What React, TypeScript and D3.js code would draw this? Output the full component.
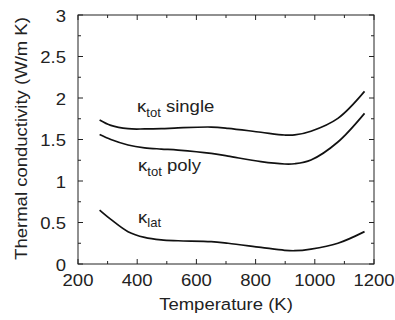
import React from "react";
import * as d3 from "d3";

const temps = [273, 311, 369, 425, 481, 538, 650, 707, 818, 898, 932, 987, 1078, 1168];
const single = [1.735, 1.67, 1.63, 1.627, 1.63, 1.64, 1.65, 1.635, 1.587, 1.554, 1.555, 1.6, 1.755, 2.08];
const poly = [1.56, 1.5, 1.434, 1.4, 1.385, 1.373, 1.333, 1.3, 1.233, 1.205, 1.208, 1.253, 1.47, 1.815];
const lat = [0.65, 0.538, 0.39, 0.32, 0.29, 0.28, 0.27, 0.25, 0.2, 0.165, 0.16, 0.18, 0.25, 0.39];

const xMajor = [200, 400, 600, 800, 1000, 1200];
const xMinor = [300, 500, 700, 900, 1100];
const yMajor = [0, 0.5, 1, 1.5, 2, 2.5, 3];
const yMinor = [0.25, 0.75, 1.25, 1.75, 2.25, 2.75];

const W = 395, H = 320;
const L = 78, R = 374, T = 15, B = 264;
const FS = 17;
const SX = 1.09;
const col = "#222";

function Txt(props: { x: number; y: number; anchor?: string; rotate?: number; children: React.ReactNode; size?: number }) {
  const { x, y, anchor = "start", rotate = 0, children, size = FS } = props;
  const tr = rotate
    ? `translate(${x},${y}) rotate(${rotate}) scale(${SX},1)`
    : `translate(${x},${y}) scale(${SX},1)`;
  return (
    <g transform={tr}>
      <text x={0} y={0} textAnchor={anchor} fontSize={size} fill={col}>
        {children}
      </text>
    </g>
  );
}

export default function App() {
  const x = d3.scaleLinear().domain([200, 1200]).range([L, R]);
  const y = d3.scaleLinear().domain([0, 3]).range([B, T]);
  const line = d3
    .line<number>()
    .x((_, i) => x(temps[i]))
    .y((d) => y(d))
    .curve(d3.curveCatmullRom.alpha(0.5));
  const font = "Liberation Sans, Arial, Helvetica, sans-serif";
  return (
    <svg width={W} height={H} style={{ position: "absolute", left: 0, top: 0, background: "#fff" }} fontFamily={font}>
      <rect x={L} y={T} width={R - L} height={B - T} fill="none" stroke={col} strokeWidth={1} />
      {xMajor.map((v) => (
        <g key={"xM" + v}>
          <line x1={x(v)} x2={x(v)} y1={B} y2={B - 5} stroke={col} />
          <line x1={x(v)} x2={x(v)} y1={T} y2={T + 5} stroke={col} />
          <Txt x={x(v)} y={285.5} anchor="middle">{v}</Txt>
        </g>
      ))}
      {xMinor.map((v) => (
        <g key={"xm" + v}>
          <line x1={x(v)} x2={x(v)} y1={B} y2={B - 3} stroke={col} />
          <line x1={x(v)} x2={x(v)} y1={T} y2={T + 3} stroke={col} />
        </g>
      ))}
      {yMajor.map((v) => (
        <g key={"yM" + v}>
          <line x1={L} x2={L + 5} y1={y(v)} y2={y(v)} stroke={col} />
          <line x1={R} x2={R - 5} y1={y(v)} y2={y(v)} stroke={col} />
          <Txt x={66} y={y(v) + 6.5} anchor="end">{v}</Txt>
        </g>
      ))}
      {yMinor.map((v) => (
        <g key={"ym" + v}>
          <line x1={L} x2={L + 3} y1={y(v)} y2={y(v)} stroke={col} />
          <line x1={R} x2={R - 3} y1={y(v)} y2={y(v)} stroke={col} />
        </g>
      ))}
      <path d={line(single) || ""} fill="none" stroke="#111" strokeWidth={1.7} />
      <path d={line(poly) || ""} fill="none" stroke="#111" strokeWidth={1.7} />
      <path d={line(lat) || ""} fill="none" stroke="#111" strokeWidth={1.7} />
      <Txt x={137} y={111.5}>
        κ<tspan fontSize={12} dy={5}>tot</tspan><tspan dy={-5}> single</tspan>
      </Txt>
      <Txt x={138} y={171}>
        κ<tspan fontSize={12} dy={5}>tot</tspan><tspan dy={-5}> poly</tspan>
      </Txt>
      <Txt x={138} y={222.5}>
        κ<tspan fontSize={12} dy={4}>lat</tspan>
      </Txt>
      <Txt x={(L + R) / 2} y={310} anchor="middle">Temperature (K)</Txt>
      <Txt x={27} y={138.5} anchor="middle" rotate={-90}>Thermal conductivity (W/m K)</Txt>
    </svg>
  );
}
